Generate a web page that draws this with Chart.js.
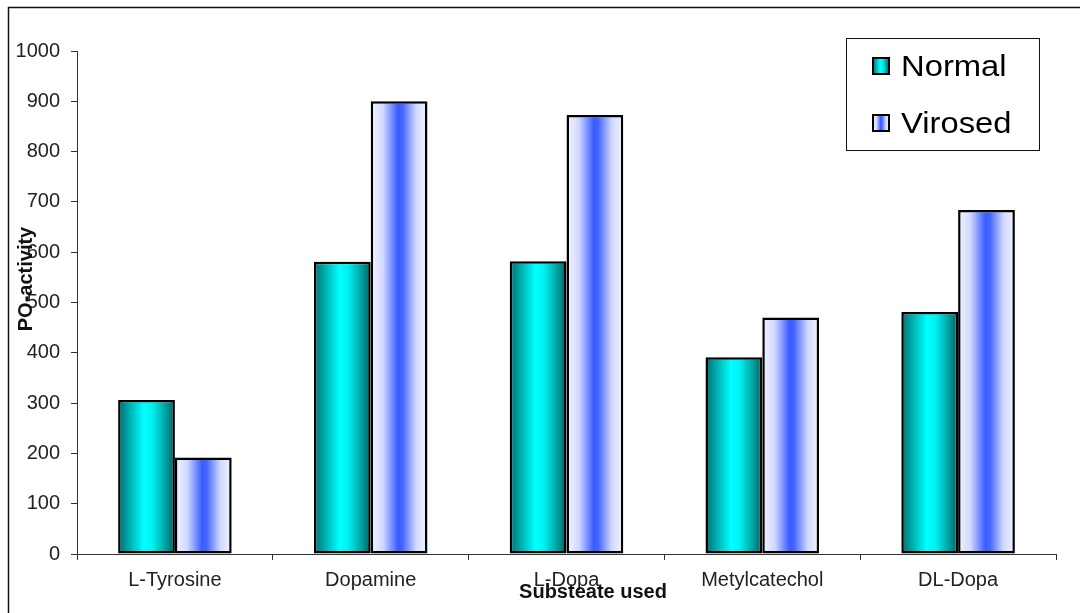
<!DOCTYPE html>
<html>
<head>
<meta charset="utf-8">
<script src="https://cdn.jsdelivr.net/npm/chart.js@4.4.1/dist/chart.umd.min.js"></script>
<style>
  html, body { margin: 0; padding: 0; background: #fff; }
  #wrap { width: 1080px; height: 613px; position: relative; }
</style>
</head>
<body>
<div id="wrap"><canvas id="c" width="1080" height="613"></canvas></div>
<script>
// Substrate categories and PO activity for each plant condition
const categories = ['L-Tyrosine', 'Dopamine', 'L-Dopa', 'Metylcatechol', 'DL-Dopa'];
const normalValues = [306, 581, 582, 391, 481];
const virosedValues = [192, 900, 873, 470, 684];
const seriesNames = ['Normal', 'Virosed'];
const yMin = 0, yMax = 1000, yStep = 100;
const yTitle = 'PO-activity';
const xTitle = 'Substeate used';

const CAT_PCT = 0.58;
const FONT = "'Liberation Sans', Arial, sans-serif";

function normalGradient(ctx, x0, x1) {
  const g = ctx.createLinearGradient(x0, 0, x1, 0);
  g.addColorStop(0, '#006e6e');
  g.addColorStop(0.18, '#00a8a8');
  g.addColorStop(0.45, '#00ffff');
  g.addColorStop(0.6, '#00f2f2');
  g.addColorStop(0.85, '#009c9c');
  g.addColorStop(1, '#006060');
  return g;
}
function virosedGradient(ctx, x0, x1) {
  const g = ctx.createLinearGradient(x0, 0, x1, 0);
  g.addColorStop(0, '#f4f5ff');
  g.addColorStop(0.22, '#d0d8ff');
  g.addColorStop(0.48, '#3a5cff');
  g.addColorStop(0.56, '#4466ff');
  g.addColorStop(0.8, '#d0d8ff');
  g.addColorStop(1, '#f4f5ff');
  return g;
}

// Gradient per bar, positioned from the category scale
function barFill(makeGrad, side) {
  return function (context) {
    const chart = context.chart;
    const xs = chart.scales.x;
    if (!xs || !chart.chartArea) return '#888';
    const catW = xs.width / categories.length;
    const bw = catW * CAT_PCT / 2;
    const c = xs.getPixelForValue(context.dataIndex);
    const left = side === 0 ? c - bw : c;
    return makeGrad(chart.ctx, left, left + bw);
  };
}

// Outer frame, axis titles and the boxed legend
const decorations = {
  id: 'decorations',
  afterDraw(chart) {
    const ctx = chart.ctx;
    ctx.save();
    // frame
    ctx.strokeStyle = '#111';
    ctx.lineWidth = 1.5;
    ctx.beginPath();
    ctx.moveTo(8.5, 613);
    ctx.lineTo(8.5, 7.5);
    ctx.lineTo(1080, 7.5);
    ctx.stroke();

    // axis titles
    ctx.fillStyle = '#111';
    ctx.font = 'bold 20px ' + FONT;
    ctx.textAlign = 'center';
    ctx.textBaseline = 'middle';
    ctx.fillText(xTitle, 593, 592);
    ctx.save();
    ctx.translate(26, 279);
    ctx.rotate(-Math.PI / 2);
    ctx.font = 'bold 20px ' + FONT;
    ctx.fillText(yTitle, 0, 0);
    ctx.restore();

    // legend box
    ctx.fillStyle = '#fff';
    ctx.fillRect(846.5, 38.5, 193, 112);
    ctx.strokeStyle = '#111';
    ctx.lineWidth = 1;
    ctx.strokeRect(846.5, 38.5, 193, 112);
    const rows = [
      { y: 58, base: 76, grad: normalGradient },
      { y: 115, base: 133, grad: virosedGradient }
    ];
    rows.forEach((r, i) => {
      const mx = 873, s = 16;
      ctx.fillStyle = r.grad(ctx, mx, mx + s);
      ctx.fillRect(mx, r.y, s, s);
      ctx.strokeStyle = '#000';
      ctx.lineWidth = 2;
      ctx.strokeRect(mx, r.y, s, s);
      ctx.save();
      ctx.translate(901, r.base);
      ctx.scale(1.13, 1);
      ctx.fillStyle = '#000';
      ctx.font = '29px ' + FONT;
      ctx.textAlign = 'left';
      ctx.textBaseline = 'alphabetic';
      ctx.fillText(chart.data.datasets[i].label, 0, 0);
      ctx.restore();
    });
    ctx.restore();
  }
};

new Chart(document.getElementById('c'), {
  type: 'bar',
  data: {
    labels: categories,
    datasets: [
      {
        label: seriesNames[0],
        data: normalValues,
        backgroundColor: barFill(normalGradient, 0),
        borderColor: '#000',
        borderWidth: 2.5,
        borderSkipped: false
      },
      {
        label: seriesNames[1],
        data: virosedValues,
        backgroundColor: barFill(virosedGradient, 1),
        borderColor: '#000',
        borderWidth: 2.5,
        borderSkipped: false
      }
    ]
  },
  options: {
    responsive: false,
    animation: false,
    devicePixelRatio: 1,
    datasets: { bar: { categoryPercentage: CAT_PCT, barPercentage: 1 } },
    layout: { padding: { left: 0, top: 51, right: 24, bottom: 0 } },
    plugins: {
      legend: { display: false },
      tooltip: { enabled: false }
    },
    scales: {
      x: {
        offset: true,
        grid: { display: true, drawOnChartArea: false, drawTicks: true, tickLength: 6, color: '#333', offset: true },
        border: { display: true, color: '#333', width: 1 },
        ticks: { color: '#222', font: { family: FONT, size: 20 }, padding: 8, maxRotation: 0 },
        afterFit(scale) { scale.height = 59; }
      },
      y: {
        min: yMin,
        max: yMax,
        ticks: {
          stepSize: yStep, color: '#222', font: { family: FONT, size: 20 }, padding: 11,
          callback: (v) => String(v)
        },
        grid: { display: true, drawOnChartArea: false, drawTicks: true, tickLength: 6, color: '#333' },
        border: { display: true, color: '#333', width: 1 },
        afterFit(scale) { scale.width = 77; }
      }
    }
  },
  plugins: [decorations]
});
</script>
</body>
</html>
